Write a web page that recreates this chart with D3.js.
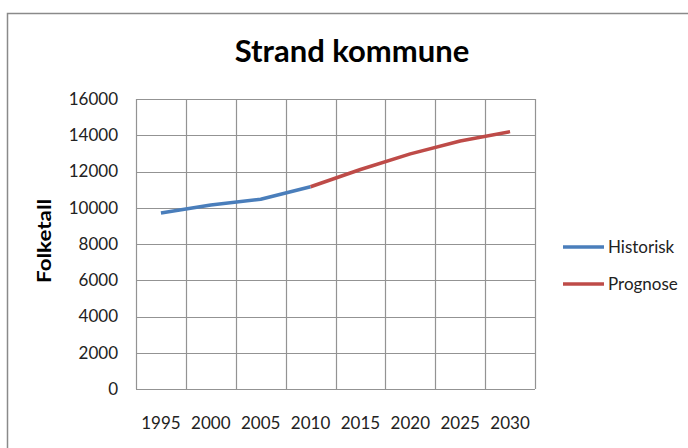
<!DOCTYPE html>
<html lang="no">
<head>
	<meta charset="utf-8">
	<title>Strand kommune</title>
	<style>
		body { margin: 0; background: #fff; }
		svg text { font-family: Lato, "Open Sans", sans-serif; }
	</style>
	<script type="text/javascript" src="https://d3js.org/d3.v7.min.js"></script>
</head>
<body>
	<script type="text/javascript">
            // data
            var years = [1995, 2000, 2005, 2010, 2015, 2020, 2025, 2030];
            var historisk = [9710, 10150, 10470, 11160, null, null, null, null];
            var prognose = [null, null, null, 11160, 12110, 12970, 13680, 14200];
            var yTicks = [0, 2000, 4000, 6000, 8000, 10000, 12000, 14000, 16000];

            var w = 688;
            var h = 448;
            var svg = d3.select("body")
                .append("svg")
                .attr("width", w)
                .attr("height", h);

            // outer chart frame, runs off the right and bottom edge
            svg.append("rect")
                .attr("x", 7.5)
                .attr("y", 13.5)
                .attr("width", 720)
                .attr("height", 480)
                .attr("fill", "none")
                .attr("stroke", "#8a8a8a")
                .attr("stroke-width", 1.5);

            var plotL = 136, plotR = 535, plotT = 99, plotB = 389;
            var xScale = d3.scaleBand()
                .domain(years)
                .range([plotL, plotR]);
            var yScale = d3.scaleLinear()
                .domain([0, 16000])
                .range([plotB, plotT]);

            // gridlines
            svg.append("g")
                .selectAll("line")
                .data(yTicks)
                .enter()
                .append("line")
                .attr("x1", plotL)
                .attr("x2", plotR)
                .attr("y1", d => Math.round(yScale(d)) + 0.5)
                .attr("y2", d => Math.round(yScale(d)) + 0.5)
                .attr("stroke", "#939393")
                .attr("stroke-width", 1.2);
            var edges = years.map(d => xScale(d)).concat([plotR]);
            svg.append("g")
                .selectAll("line")
                .data(edges)
                .enter()
                .append("line")
                .attr("x1", d => Math.round(d) + 0.5)
                .attr("x2", d => Math.round(d) + 0.5)
                .attr("y1", plotT)
                .attr("y2", plotB)
                .attr("stroke", "#939393")
                .attr("stroke-width", 1.2);

            // y axis labels
            var yAxis = d3.axisLeft(yScale)
                .tickValues(yTicks)
                .tickFormat(d3.format("d"))
                .tickSize(0)
                .tickPadding(18);
            var gy = svg.append("g")
                .attr("transform", "translate(" + plotL + ",0)")
                .call(yAxis);
            gy.select(".domain").remove();
            gy.selectAll("text")
                .attr("font-family", "Lato, sans-serif")
                .attr("font-size", "17px")
                .attr("fill", "#222");

            // x axis labels
            var xAxis = d3.axisBottom(xScale)
                .tickSize(0)
                .tickPadding(28);
            var gx = svg.append("g")
                .attr("transform", "translate(0," + plotB + ")")
                .call(xAxis);
            gx.select(".domain").remove();
            gx.selectAll("text")
                .attr("font-family", "Lato, sans-serif")
                .attr("font-size", "17px")
                .attr("fill", "#222");

            // lines
            var line = d3.line()
                .defined(d => d[1] != null)
                .x(d => xScale(d[0]) + xScale.bandwidth() / 2)
                .y(d => yScale(d[1]));
            var series = [
                { name: "Historisk", values: historisk, color: "#4a7ebb" },
                { name: "Prognose", values: prognose, color: "#be4b48" }
            ];
            svg.selectAll(".series")
                .data(series)
                .enter()
                .append("path")
                .attr("class", "series")
                .attr("d", s => line(years.map((y, i) => [y, s.values[i]])))
                .attr("fill", "none")
                .attr("stroke", s => s.color)
                .attr("stroke-width", 3.5)
                .attr("stroke-linejoin", "round");

            // title
            svg.append("text")
                .text("Strand kommune")
                .attr("x", 352)
                .attr("y", 62)
                .attr("text-anchor", "middle")
                .attr("font-size", "31px")
                .attr("font-weight", "bold")
                .attr("fill", "#000");

            // y label
            svg.append("text")
                .text("Folketall")
                .attr("transform", "translate(51,241) rotate(-90)")
                .attr("text-anchor", "middle")
                .attr("font-size", "18px")
                .attr("font-weight", "bold")
                .attr("textLength", 84)
                .attr("lengthAdjust", "spacingAndGlyphs")
                .attr("fill", "#000");

            // legend
            var legend = svg.selectAll(".legend")
                .data(series)
                .enter()
                .append("g")
                .attr("class", "legend")
                .attr("transform", (d, i) => "translate(563," + (247 + i * 37) + ")");
            legend.append("line")
                .attr("x1", 0)
                .attr("x2", 41)
                .attr("stroke", d => d.color)
                .attr("stroke-width", 3.5);
            legend.append("text")
                .text(d => d.name)
                .attr("x", 45)
                .attr("dy", "0.35em")
                .attr("font-size", "17px")
                .attr("fill", "#222");
        </script>
</body>
</html>
